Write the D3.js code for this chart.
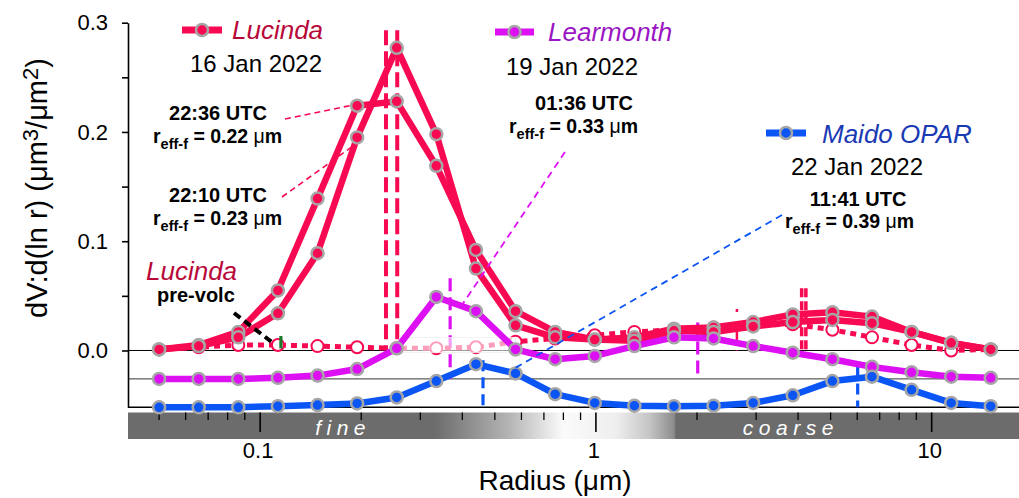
<!DOCTYPE html>
<html><head><meta charset="utf-8">
<script src="https://cdn.jsdelivr.net/npm/d3@7"></script>
<style>
body{margin:0;background:#fff;}
svg{display:block;font-family:"Liberation Sans",Arial,Helvetica,sans-serif;}
</style>
</head><body>
<svg id="chart" width="1019" height="498"></svg>
<script>
// ---------------- data ----------------
const radius = [0.05, 0.065604, 0.086077, 0.112939, 0.148184, 0.194429, 0.255105, 0.334716, 0.439173, 0.576227, 0.756052, 0.991996, 1.301571, 1.707757, 2.240702, 2.939966, 3.857452, 5.06126, 6.640745, 8.713145, 11.432287, 15.0];
const lucinda2210 = [0.001, 0.004, 0.012, 0.034, 0.089, 0.195, 0.277, 0.198, 0.075, 0.023, 0.012, 0.010, 0.009, 0.018, 0.017, 0.022, 0.026, 0.028, 0.025, 0.017, 0.007, 0.001];
const lucinda2236 = [0.001, 0.005, 0.017, 0.055, 0.139, 0.224, 0.228, 0.169, 0.092, 0.036, 0.017, 0.010, 0.012, 0.020, 0.021, 0.026, 0.033, 0.035, 0.031, 0.017, 0.007, 0.001];
const lucindaPre  = [0.001, 0.003, 0.005, 0.005, 0.004, 0.003, 0.002, 0.002, 0.003, 0.008, 0.011, 0.014, 0.017, 0.019, 0.021, 0.023, 0.024, 0.019, 0.012, 0.005, 0.000, 0.001];
const learmonth   = [0.000, 0.000, 0.000, 0.001, 0.003, 0.009, 0.028, 0.075, 0.062, 0.027, 0.018, 0.021, 0.030, 0.038, 0.037, 0.030, 0.024, 0.018, 0.011, 0.006, 0.002, 0.001];
const maido       = [0.000, 0.000, 0.000, 0.001, 0.002, 0.0035, 0.009, 0.024, 0.0395, 0.031, 0.012, 0.004, 0.0015, 0.001, 0.0015, 0.004, 0.011, 0.024, 0.028, 0.016, 0.004, 0.001];
const learmonthOffset = -0.026;
const maidoOffset = -0.052;

// effective-radius markers (radius, top value, base value)
const lucindaReff  = [[0.237, 0.293, 0], [0.256, 0.293, 0]];
const lucindaCoarse = [[4.10, 0.057, 0], [4.22, 0.057, 0]];
const lucindaCoarse2 = [[2.63, 0.038, 0]];
const learmonthReff = [[0.368, 0.066, -0.026], [2.01, 0.0256, -0.026]];
const maidoReff = [[0.461, -0.009, -0.052], [6.02, -0.0147, -0.052]];

const yTicks = [0, 0.05, 0.1, 0.15, 0.2, 0.25, 0.3];
const yTickLabels = ["0.0", "", "0.1", "", "0.2", "", "0.3"];
const xMajor = [0.1, 1, 10];
const xMajorLabels = ["0.1", "1", "10"];
const xMinor = [0.05, 0.06, 0.07, 0.08, 0.09, 0.2, 0.3, 0.4, 0.5, 0.6, 0.7, 0.8, 0.9, 2, 3, 4, 5, 6, 7, 8, 9];
const modeLabels = [["fine", 0.173], ["coarse", 3.73]];

// ---------------- setup ----------------
const RED = "#f70a52", MAG = "#dc10f2", BLUE = "#0b55f5";
const svg = d3.select("#chart");
const x = d3.scaleLog().domain([0.0404, 18.2]).range([128, 1019]);
const y = d3.scaleLinear().domain([-0.052, 0.3]).range([407.3, 22.7]);
const W0 = 128, W1 = 1019;

// ---------------- fine / coarse bar ----------------
const defs = svg.append("defs");
const grad = defs.append("linearGradient").attr("id", "fc")
  .attr("gradientUnits", "userSpaceOnUse").attr("x1", W0).attr("x2", W1).attr("y1", 0).attr("y2", 0);
const off = r => (x(r) - W0) / (W1 - W0);
[[0.33, "#6c6c6c"], [0.55, "#b4b4b4"], [0.80, "#fbfbfb"], [1.15, "#eeeeee"], [1.45, "#c4c4c4"], [1.71, "#8c8c8c"], [1.73, "#6c6c6c"]]
  .forEach(([r, c]) => grad.append("stop").attr("offset", off(r)).attr("stop-color", c));
svg.append("rect").attr("x", W0).attr("y", 412.5).attr("width", W1 - W0).attr("height", 26.5).attr("fill", "url(#fc)");
svg.selectAll(".xmaj").data(xMajor).join("line")
  .attr("x1", d => x(d)).attr("x2", d => x(d)).attr("y1", 412.5).attr("y2", 432)
  .attr("stroke", "#000").attr("stroke-width", 1.6);
svg.selectAll(".xmin").data(xMinor).join("line")
  .attr("x1", d => x(d)).attr("x2", d => x(d)).attr("y1", 412.5).attr("y2", 420)
  .attr("stroke", "#000").attr("stroke-width", 1.3);
svg.selectAll(".mode").data(modeLabels).join("text")
  .attr("x", d => x(d[1]) + 3).attr("y", 434.5).attr("text-anchor", "middle")
  .attr("font-size", 21).attr("font-style", "italic").attr("letter-spacing", 5.5).attr("fill", "#fff")
  .text(d => d[0]);
svg.selectAll(".xlab").data(xMajor).join("text")
  .attr("x", d => x(d) - 2).attr("y", 458).attr("text-anchor", "middle")
  .attr("font-size", 22).attr("fill", "#000").text((d, i) => xMajorLabels[i]);
svg.append("text").attr("x", 555).attr("y", 490).attr("text-anchor", "middle")
  .attr("font-size", 28).attr("fill", "#000").html("Radius (<tspan>μ</tspan>m)");

// ---------------- baselines ----------------
svg.append("line").attr("x1", W0).attr("x2", W1).attr("y1", y(0)).attr("y2", y(0)).attr("stroke", "#000").attr("stroke-width", 1);
svg.append("line").attr("x1", W0).attr("x2", W1).attr("y1", y(learmonthOffset)).attr("y2", y(learmonthOffset)).attr("stroke", "#333").attr("stroke-width", 1);
svg.append("line").attr("x1", W0).attr("x2", W1).attr("y1", y(maidoOffset)).attr("y2", y(maidoOffset)).attr("stroke", "#000").attr("stroke-width", 1.5);

// ---------------- y axis ----------------
const yAxis = d3.axisLeft(y).tickValues(yTicks).tickSize(6).tickSizeOuter(0).tickPadding(14)
  .tickFormat((d, i) => yTickLabels[i]);
const ga = svg.append("g").attr("transform", `translate(${W0},0)`).call(yAxis);
ga.select(".domain").attr("stroke-width", 1.6);
ga.selectAll(".tick line").attr("stroke-width", 1.6);
ga.selectAll("text").attr("font-size", 22).attr("font-family", "Liberation Sans, Arial, sans-serif").attr("fill", "#000");
svg.append("text").attr("transform", "translate(47,188) rotate(-90)").attr("text-anchor", "middle")
  .attr("font-size", 29).attr("fill", "#000")
  .html('dV:d(ln r) (μm<tspan font-size="22" dy="-9">3</tspan><tspan dy="9">/μm</tspan><tspan font-size="22" dy="-9">2</tspan><tspan dy="9">)</tspan>');

// ---------------- effective radius verticals ----------------
function vlines(arr, color, w, dash) {
  svg.append("g").selectAll("line").data(arr).join("line")
    .attr("x1", d => x(d[0])).attr("x2", d => x(d[0]))
    .attr("y1", d => y(d[1])).attr("y2", d => y(d[2]))
    .attr("stroke", color).attr("stroke-width", w).attr("stroke-dasharray", dash);
}
vlines(lucindaReff, RED, 4, "15,6");
vlines(lucindaCoarse, RED, 3.5, "9,4");
vlines(lucindaCoarse2, RED, 2.5, "3,10,22,6");
vlines(learmonthReff, MAG, 3.2, "13,6");
vlines(maidoReff, BLUE, 3.2, "11,6");

// ---------------- curves ----------------
function lineGen(offset) {
  return d3.line().x((d, i) => x(radius[i])).y(d => y(d + offset));
}
function curve(vals, offset, color) {
  svg.append("path").datum(vals).attr("d", lineGen(offset)).attr("fill", "none")
    .attr("stroke", color).attr("stroke-width", 6.5).attr("stroke-linejoin", "round");
}
function markers(vals, offset, color) {
  svg.append("g").selectAll("circle").data(vals).join("circle")
    .attr("cx", (d, i) => x(radius[i])).attr("cy", d => y(d + offset)).attr("r", 6)
    .attr("fill", color).attr("stroke", "#a6a6a6").attr("stroke-width", 2.5);
}

// pre-volcanic (dotted, open circles)
svg.append("path").datum(lucindaPre).attr("d", lineGen(0)).attr("fill", "none")
  .attr("stroke", RED).attr("stroke-width", 5).attr("stroke-dasharray", "6,5");
svg.append("g").selectAll("circle").data(lucindaPre).join("circle")
  .attr("cx", (d, i) => x(radius[i])).attr("cy", d => y(d)).attr("r", 6)
  .attr("fill", "#fff").attr("stroke", RED).attr("stroke-width", 2);
// faded box over part of the pre-volc curve
svg.append("rect").attr("x", x(radius[6]) + 3).attr("y", y(0.012))
  .attr("width", x(radius[9]) - x(radius[6]) - 3).attr("height", y(-0.002) - y(0.012))
  .attr("fill", "#fff").attr("fill-opacity", 0.6).attr("stroke", "#eee").attr("stroke-width", 0.8);

curve(lucinda2236, 0, RED);
curve(lucinda2210, 0, RED);
markers(lucinda2236, 0, RED);
markers(lucinda2210, 0, RED);
curve(learmonth, learmonthOffset, MAG);
markers(learmonth, learmonthOffset, MAG);
curve(maido, maidoOffset, BLUE);
markers(maido, maidoOffset, BLUE);

// ---------------- leader lines ----------------
function leader(x1, y1, x2, y2, color, w, dash) {
  svg.append("line").attr("x1", x1).attr("y1", y1).attr("x2", x2).attr("y2", y2)
    .attr("stroke", color).attr("stroke-width", w).attr("stroke-dasharray", dash);
}
leader(285, 119, 353, 105, RED, 1.6, "6,4");
leader(282, 197, 353, 146, RED, 1.6, "6,4");
leader(565, 152, 462, 305, MAG, 1.8, "7,5");
leader(782, 215, 515, 368, BLUE, 1.8, "7,5");
leader(234, 313, 273, 343, "#000", 4, "8,5");
svg.append("line").attr("x1", x(radius[3]) + 3).attr("x2", x(radius[3]) + 3).attr("y1", 336).attr("y2", 348.5)
  .attr("stroke", "#1d7a2c").attr("stroke-width", 3.2);

// ---------------- legends & labels ----------------
function legendItem(x1, x2, yy, color) {
  svg.append("line").attr("x1", x1).attr("x2", x2).attr("y1", yy).attr("y2", yy).attr("stroke", color).attr("stroke-width", 7);
  svg.append("circle").attr("cx", (x1 + x2) / 2).attr("cy", yy).attr("r", 6)
    .attr("fill", color).attr("stroke", "#a6a6a6").attr("stroke-width", 2.5);
}
function txt(s, xx, yy, opt) {
  const t = svg.append("text").attr("x", xx).attr("y", yy).attr("font-size", opt.size || 20)
    .attr("text-anchor", opt.anchor || "start").attr("fill", opt.fill || "#000");
  if (opt.bold) t.attr("font-weight", "bold");
  if (opt.italic) t.attr("font-style", "italic");
  t.html(s);
  return t;
}
function reff(val, xx, yy) {
  txt(`r<tspan font-size="14.5" dy="6">eff-f</tspan><tspan dy="-6"> = ${val} </tspan><tspan font-weight="normal">μ</tspan>m`, xx, yy, {bold: true, size: 19.5});
}

legendItem(182, 222, 30, RED);
txt("Lucinda", 232, 39, {size: 26, italic: true, fill: "#b8083a"});
txt("16 Jan 2022", 256, 72, {size: 24, anchor: "middle"});

legendItem(495, 534, 32, MAG);
txt("Learmonth", 548, 41, {size: 26, italic: true, fill: "#9a16c4"});
txt("19 Jan 2022", 572, 75, {size: 24, anchor: "middle"});
txt("01:36 UTC", 584, 110, {bold: true, anchor: "middle"});
reff("0.33", 509, 133);

legendItem(766, 806, 133, BLUE);
txt("Maido OPAR", 822, 143, {size: 26, italic: true, fill: "#1a3ab4"});
txt("22 Jan 2022", 857, 175, {size: 24, anchor: "middle"});
txt("11:41 UTC", 858, 206, {bold: true, anchor: "middle"});
reff("0.39", 785, 228);

txt("22:36 UTC", 218, 120, {bold: true, anchor: "middle"});
reff("0.22", 153, 143);
txt("22:10 UTC", 218, 202, {bold: true, anchor: "middle"});
reff("0.23", 153, 225);

txt("Lucinda", 146, 280, {size: 26, italic: true, fill: "#b8083a"});
txt("pre-volc", 157, 302, {bold: true});
</script>
</body></html>
